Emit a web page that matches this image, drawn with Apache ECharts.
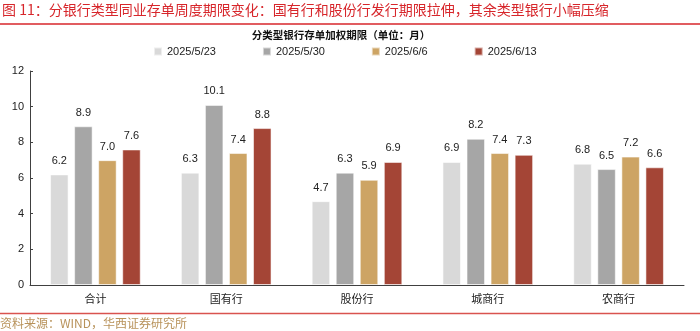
<!DOCTYPE html>
<html>
<head>
<meta charset="utf-8">
<script src="https://cdn.jsdelivr.net/npm/echarts@6/dist/echarts.min.js"></script>
<style>html,body{margin:0;padding:0;background:#fff;}#c{width:700px;height:331px;}</style>
</head>
<body>
<div id="c"></div>
<script>
const categories = ['合计', '国有行', '股份行', '城商行', '农商行'];
const seriesNames = ['2025/5/23', '2025/5/30', '2025/6/6', '2025/6/13'];
const s0523 = [6.2, 6.3, 4.7, 6.9, 6.8];
const s0530 = [8.9, 10.1, 6.3, 8.2, 6.5];
const s0606 = [7.0, 7.4, 5.9, 7.4, 7.2];
const s0613 = [7.6, 8.8, 6.9, 7.3, 6.6];
const yTicks = [0, 2, 4, 6, 8, 10, 12];
const colors = ['#D9D9D9', '#A6A6A6', '#CDA464', '#A44536'];

const seriesData = [s0523, s0530, s0606, s0613];
const cjk = '"Noto Sans CJK SC", sans-serif';
const latin = '"Liberation Sans", Arial, sans-serif';

const chart = echarts.init(document.getElementById('c'), null, {renderer: 'canvas'});
chart.setOption({
  animation: false,
  backgroundColor: '#fff',
  title: [
    {
      text: '图 11：分银行类型同业存单周度期限变化：国有行和股份行发行期限拉伸，其余类型银行小幅压缩',
      left: 2, top: 3, padding: 0,
      textStyle: {color: '#D7262B', fontSize: 14, fontWeight: 'normal', fontFamily: cjk}
    },
    {
      text: '分类型银行存单加权期限（单位：月）',
      left: 341, top: 30, textAlign: 'center', padding: 0,
      textStyle: {color: '#111', fontSize: 10.5, fontWeight: 'bold', fontFamily: cjk}
    },
    {
      text: '资料来源：WIND，华西证券研究所',
      left: 0, top: 317, padding: 0,
      textStyle: {color: '#B8925A', fontSize: 12, fontWeight: 'normal', fontFamily: cjk}
    }
  ],
  graphic: [
    {type: 'line', shape: {x1: 0, y1: 24, x2: 700, y2: 24}, style: {stroke: '#D7262B', lineWidth: 1.5}},
    {type: 'line', shape: {x1: 0, y1: 313.5, x2: 700, y2: 313.5}, style: {stroke: '#D9534F', lineWidth: 1.5}}
  ],
  legend: {
    left: 153, top: 46, padding: 0,
    itemWidth: 8, itemHeight: 8, itemGap: 46,
    icon: 'rect',
    data: seriesNames,
    textStyle: {fontSize: 11, color: '#222', fontFamily: latin}
  },
  grid: {left: 30, right: 16, top: 71, bottom: 46, containLabel: false},
  xAxis: {
    type: 'category',
    data: categories,
    axisLine: {lineStyle: {color: '#404040', width: 1}},
    axisTick: {show: false},
    axisLabel: {fontSize: 11, color: '#222', fontFamily: cjk, margin: 8}
  },
  yAxis: {
    type: 'value',
    min: yTicks[0], max: yTicks[yTicks.length - 1], interval: 2,
    axisLine: {show: true, lineStyle: {color: '#404040', width: 1}},
    axisTick: {show: true, inside: true, length: 3, lineStyle: {color: '#404040'}},
    splitLine: {show: false},
    axisLabel: {fontSize: 11, color: '#222', fontFamily: latin, margin: 6}
  },
  series: seriesNames.map((name, i) => ({
    name: name,
    type: 'bar',
    data: seriesData[i],
    barWidth: 18.5,
    barGap: '30%',
    itemStyle: {color: colors[i], borderColor: 'rgba(255,255,255,0.55)', borderWidth: 1},
    label: {
      show: true, position: 'top', distance: 8,
      fontSize: 11, color: '#222', fontFamily: latin,
      formatter: p => p.value.toFixed(1)
    }
  }))
});
</script>
</body>
</html>
